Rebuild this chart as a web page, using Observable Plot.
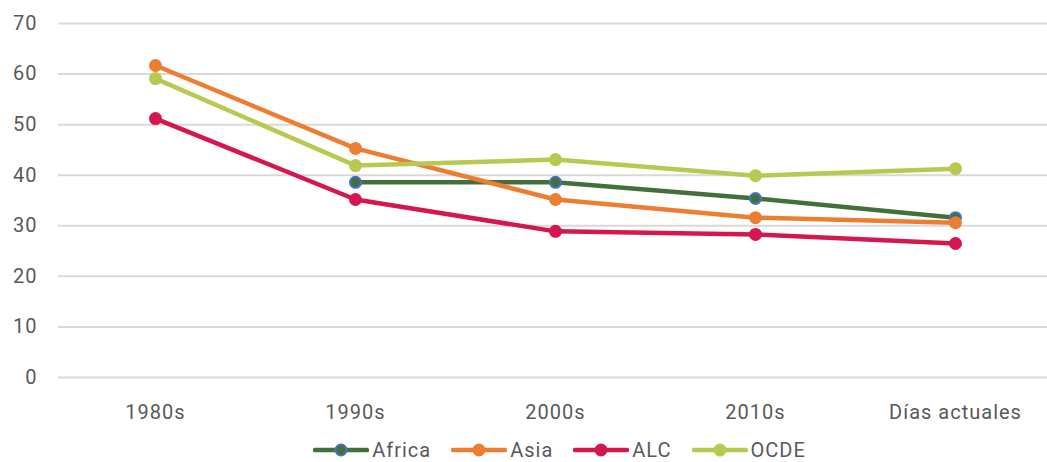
<!DOCTYPE html>
<html>
<head>
<meta charset="utf-8">
<script src="https://cdn.jsdelivr.net/npm/d3@7"></script>
<script src="https://cdn.jsdelivr.net/npm/@observablehq/plot@0.6"></script>
<style>
  html, body { margin: 0; padding: 0; background: #fff; }
  body { width: 1047px; height: 462px; overflow: hidden; font-family: Roboto, "DejaVu Sans", sans-serif; }
  #legend { display: flex; justify-content: center; align-items: center; height: 30px; padding-left: 72px; padding-top: 6px; box-sizing: border-box; width: 1047px; }
  .item { display: flex; align-items: center; margin: 0 10px; color: #595959; font-size: 20px; letter-spacing: 1px; }
  .item svg { margin-right: 3px; }
</style>
</head>
<body>
<div id="chart"></div>
<div id="legend"></div>
<script>
const categories = ["1980s", "1990s", "2000s", "2010s", "Días actuales"];
const seriesNames = ["Africa", "Asia", "ALC", "OCDE"];
const africa = [null, 38.6, 38.6, 35.4, 31.6];
const asia = [61.7, 45.3, 35.2, 31.6, 30.6];
const alc = [51.2, 35.2, 28.9, 28.3, 26.5];
const ocde = [59.1, 41.9, 43.1, 39.9, 41.3];
const yTicks = [0, 10, 20, 30, 40, 50, 60, 70];

const lineColors = {Africa: "#43703A", Asia: "#ED7D31", ALC: "#D4174E", OCDE: "#B8C850"};
const markerStroke = {Africa: "#4472C4", Asia: "#ED7D31", ALC: "#D4174E", OCDE: "#B8C850"};

const valuesBySeries = {Africa: africa, Asia: asia, ALC: alc, OCDE: ocde};
const data = [];
for (const s of seriesNames) {
  valuesBySeries[s].forEach((v, i) => {
    if (v != null) data.push({series: s, cat: categories[i], value: v});
  });
}

const chart = Plot.plot({
  width: 1047,
  height: 432,
  marginLeft: 58,
  marginRight: 0,
  marginTop: 23,
  marginBottom: 55,
  style: {fontFamily: "Roboto, 'DejaVu Sans', sans-serif", fontSize: "20px", color: "#595959", letterSpacing: "1px"},
  x: {type: "point", domain: categories, padding: 0.5, range: [55, 1055], label: null},
  y: {domain: [0, 70], ticks: yTicks, label: null},
  marks: [
    Plot.gridY(yTicks, {stroke: "#D9D9D9", strokeOpacity: 1, strokeWidth: 2}),
    Plot.axisY(yTicks, {tickSize: 0, tickPadding: 21, fill: "#595959", fontSize: 20}),
    Plot.axisX({tickSize: 0, tickPadding: 27, fill: "#595959", fontSize: 20}),
    Plot.line(data, {x: "cat", y: "value", z: "series", stroke: d => lineColors[d.series], strokeWidth: 4.5, strokeLinejoin: "round"}),
    Plot.dot(data, {x: "cat", y: "value", r: 5.5, fill: d => lineColors[d.series], stroke: d => markerStroke[d.series], strokeWidth: 2})
  ]
});
document.getElementById("chart").appendChild(chart);

const legend = document.getElementById("legend");
for (const s of seriesNames) {
  const item = document.createElement("div");
  item.className = "item";
  item.innerHTML = `<svg width="56" height="16"><line x1="2" x2="54" y1="8" y2="8" stroke="${lineColors[s]}" stroke-width="4.5" stroke-linecap="round"/><circle cx="28" cy="8" r="5.5" fill="${lineColors[s]}" stroke="${markerStroke[s]}" stroke-width="2"/></svg><span>${s}</span>`;
  legend.appendChild(item);
}
</script>
</body>
</html>
